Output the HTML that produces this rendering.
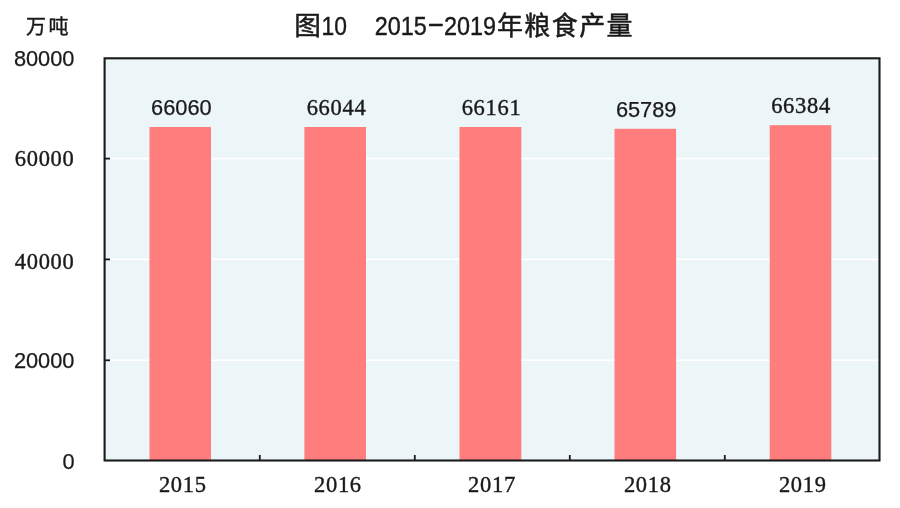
<!DOCTYPE html>
<html lang="zh-CN">
<head>
<meta charset="utf-8">
<title>图10 2015-2019年粮食产量</title>
<style>
html,body{margin:0;padding:0;background:#fff;}
body{width:900px;height:508px;overflow:hidden;}
svg{display:block;}
.sans{font-family:"Liberation Sans","Noto Sans CJK SC",sans-serif;stroke:#1a1a1a;stroke-width:0.25px;}
.serif{font-family:"Liberation Serif","Noto Serif CJK SC",serif;stroke:#1a1a1a;stroke-width:0.4px;}
.cjk{font-family:"Liberation Sans","Noto Sans CJK SC",sans-serif;}
text{fill:#1a1a1a;}
</style>
</head>
<body>
<svg width="900" height="508" viewBox="0 0 900 508">
  <rect x="0" y="0" width="900" height="508" fill="#ffffff"/>
  <!-- plot background -->
  <rect x="104.5" y="58.3" width="775" height="402" fill="#ecf5f8"/>
  <!-- gridlines -->
  <g stroke="#ffffff" stroke-width="1.6">
    <line x1="105" x2="879" y1="158.6" y2="158.6"/>
    <line x1="105" x2="879" y1="259.4" y2="259.4"/>
    <line x1="105" x2="879" y1="360.3" y2="360.3"/>
  </g>
  <!-- bars -->
  <g fill="#ff7d7d">
    <rect x="149.5" y="127" width="61.5" height="333.5"/>
    <rect x="304.4" y="127" width="61.6" height="333.5"/>
    <rect x="459.5" y="127" width="61.8" height="333.5"/>
    <rect x="614.5" y="128.8" width="61.6" height="331.7"/>
    <rect x="769.7" y="125.2" width="61.6" height="335.3"/>
  </g>
  <!-- ticks -->
  <g stroke="#1a1a1a" stroke-width="1.8">
    <line x1="105" x2="110" y1="158.6" y2="158.6"/>
    <line x1="105" x2="110" y1="259.4" y2="259.4"/>
    <line x1="105" x2="110" y1="360.3" y2="360.3"/>
    <line x1="259.8" x2="259.8" y1="455" y2="460"/>
    <line x1="414.8" x2="414.8" y1="455" y2="460"/>
    <line x1="569.8" x2="569.8" y1="455" y2="460"/>
    <line x1="724.8" x2="724.8" y1="455" y2="460"/>
  </g>
  <!-- frame -->
  <rect x="104.6" y="58.3" width="774.9" height="402.2" fill="none" stroke="#1a1a1a" stroke-width="2.1"/>

  <!-- title -->
  <g class="cjk" stroke="#1a1a1a" stroke-width="0.4" stroke-linejoin="round">
    <text x="294.3" y="35" font-size="26.7" stroke-width="0.5">图</text>
    <text x="321.6" y="35" font-size="25.6" textLength="25.4" lengthAdjust="spacingAndGlyphs">10</text>
    <text x="374.8" y="35" font-size="25.6" textLength="52" lengthAdjust="spacingAndGlyphs">2015</text>
    <text x="427" y="32" font-size="25.6" textLength="17.6" lengthAdjust="spacingAndGlyphs">-</text>
    <text x="444" y="35" font-size="25.6" textLength="52" lengthAdjust="spacingAndGlyphs">2019</text>
    <text x="496.95 524.35 551.75 579.15 606.55" y="35" font-size="26" stroke-width="0.5">年粮食产量</text>
  </g>

  <!-- unit -->
  <text class="cjk" x="26 48.5" y="33.5" font-size="20" stroke="#1a1a1a" stroke-width="0.4">万吨</text>

  <!-- y labels -->
  <text class="sans" x="74.5" y="65.6" font-size="21.8" text-anchor="end">80000</text>
  <text class="serif" x="74.5" y="166.2" font-size="22.5" text-anchor="end" letter-spacing="0.7">60000</text>
  <text class="serif" x="74.5" y="268.7" font-size="22.5" text-anchor="end" letter-spacing="0.7">40000</text>
  <text class="sans" x="74.5" y="367.8" font-size="21.8" text-anchor="end">20000</text>
  <text class="sans" x="74.5" y="468.7" font-size="21.8" text-anchor="end">0</text>

  <!-- data labels -->
  <text class="sans" x="181.4" y="115.2" font-size="21.8" text-anchor="middle">66060</text>
  <text class="serif" x="336.5" y="115.2" font-size="22.5" text-anchor="middle" letter-spacing="0.7">66044</text>
  <text class="serif" x="491.5" y="115.2" font-size="22.5" text-anchor="middle" letter-spacing="0.7">66161</text>
  <text class="sans" x="646.2" y="116.7" font-size="21.8" text-anchor="middle">65789</text>
  <text class="serif" x="801" y="113.3" font-size="22.5" text-anchor="middle" letter-spacing="0.7">66384</text>

  <!-- x labels -->
  <text class="serif" x="182.8" y="492.3" font-size="22.5" text-anchor="middle" letter-spacing="0.7">2015</text>
  <text class="serif" x="337.9" y="492.3" font-size="22.5" text-anchor="middle" letter-spacing="0.7">2016</text>
  <text class="serif" x="492.0" y="492.3" font-size="22.5" text-anchor="middle" letter-spacing="0.7">2017</text>
  <text class="serif" x="647.8" y="492.3" font-size="22.5" text-anchor="middle" letter-spacing="0.7">2018</text>
  <text class="serif" x="802.8" y="492.3" font-size="22.5" text-anchor="middle" letter-spacing="0.7">2019</text>
</svg>
</body>
</html>
